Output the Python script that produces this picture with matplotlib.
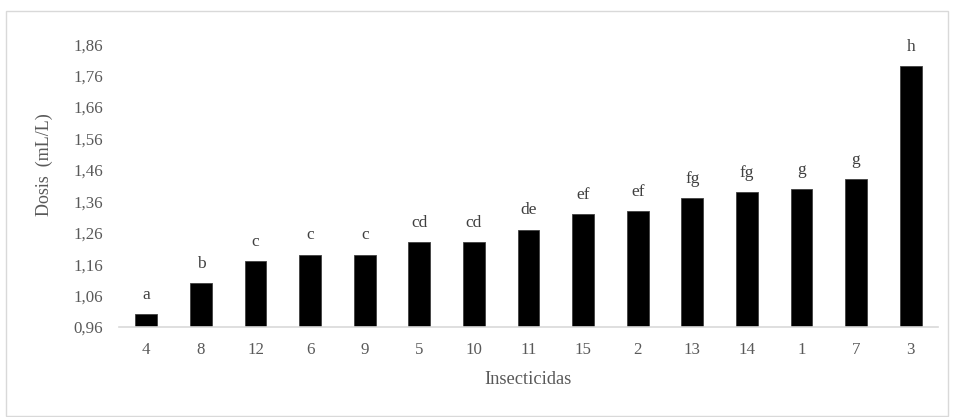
import matplotlib
matplotlib.use("Agg")
import matplotlib.pyplot as plt
from matplotlib.patches import Rectangle

# Insecticide treatments, ordered by dose
insecticidas = ["4", "8", "12", "6", "9", "5", "10", "11", "15", "2", "13", "14", "1", "7", "3"]
dosis = [1.00, 1.10, 1.17, 1.19, 1.19, 1.23, 1.23, 1.27, 1.32, 1.33, 1.37, 1.39, 1.40, 1.43, 1.79]
letras = ["a", "b", "c", "c", "c", "cd", "cd", "de", "ef", "ef", "fg", "fg", "g", "g", "h"]
yticks = [0.96, 1.06, 1.16, 1.26, 1.36, 1.46, 1.56, 1.66, 1.76, 1.86]

plt.rcParams["font.family"] = ["Liberation Serif", "DejaVu Serif"]
text_color = "#595959"
W, H = 955, 417

fig = plt.figure(figsize=(W / 100, H / 100), dpi=100)
ax = fig.add_axes([119 / W, 1 - 327 / H, (938 - 119) / W, (327 - 44.3) / H])

x = list(range(len(insecticidas)))
ax.bar(x, [d - yticks[0] for d in dosis], bottom=yticks[0], width=0.4,
       color="black", edgecolor="#404040", linewidth=0.6, zorder=2)

for xi, d, l in zip(x, dosis, letras):
    ax.annotate(l, (xi, d), xytext=(0, 11), textcoords="offset points",
                ha="center", va="baseline", fontsize=12.5, color="#404040")

ax.set_xlim(-0.5, len(x) - 0.5)
ax.set_ylim(yticks[0], yticks[-1])
ax.set_xticks(x)
ax.set_xticklabels(insecticidas)
ax.set_yticks(yticks)
ax.set_yticklabels([f"{t:.2f}".replace(".", ",") for t in yticks])
ax.tick_params(axis="both", length=0, labelsize=12.2, labelcolor=text_color)
ax.tick_params(axis="x", pad=11)
ax.tick_params(axis="y", pad=11.5)

for side in ["top", "right", "left"]:
    ax.spines[side].set_visible(False)
ax.spines["bottom"].set_color("#d9d9d9")
ax.spines["bottom"].set_linewidth(1.2)

ax.set_xlabel("Insecticidas", fontsize=13.2, color=text_color)
ax.xaxis.set_label_coords((528 - 119) / (938 - 119), -(371 - 327) / (327 - 44.3))
ax.set_ylabel("Dosis  (mL/L)", fontsize=13, color=text_color)
ax.yaxis.set_label_coords(-(119 - 53) / (938 - 119), (327 - 165) / (327 - 44.3))

# chart frame
fig.patches.append(Rectangle((6 / W, 1 / H), (948 - 6) / W, (406 - 1) / H,
                             transform=fig.transFigure, fill=False,
                             edgecolor="#d9d9d9", linewidth=1.0))

fig.savefig("out.png", dpi=100, facecolor="white")
